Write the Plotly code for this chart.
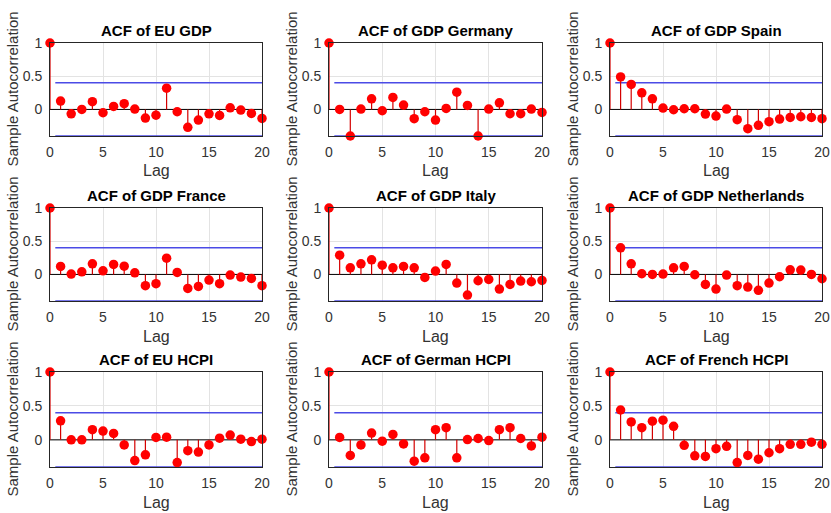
import plotly.graph_objects as go

W, H = 831, 513

lags = list(range(21))
titles = ["ACF of EU GDP", "ACF of GDP Germany", "ACF of GDP Spain",
          "ACF of GDP France", "ACF of GDP Italy", "ACF of GDP Netherlands",
          "ACF of EU HCPI", "ACF of German HCPI", "ACF of French HCPI"]

acf_eu_gdp = [1, 0.126, -0.066, 0.0, 0.116, -0.05, 0.045, 0.086, 0.005, -0.13, -0.086,
              0.32, -0.035, -0.27, -0.16, -0.066, -0.09, 0.025, -0.01, -0.06, -0.136]
acf_gdp_germany = [1, 0.0, -0.40, 0.005, 0.16, -0.02, 0.18, 0.065, -0.14, -0.035, -0.16,
                   0.015, 0.26, 0.06, -0.40, 0.005, 0.10, -0.065, -0.065, 0.005, -0.045]
acf_gdp_spain = [1, 0.49, 0.376, 0.25, 0.16, 0.02, -0.005, 0.01, 0.01, -0.07, -0.10,
                 0.005, -0.155, -0.29, -0.24, -0.185, -0.145, -0.12, -0.11, -0.12, -0.14]
acf_gdp_france = [1, 0.12, 0.005, 0.04, 0.16, 0.055, 0.15, 0.125, 0.025, -0.17, -0.14,
                  0.245, 0.03, -0.21, -0.18, -0.085, -0.14, -0.01, -0.04, -0.06, -0.17]
acf_gdp_italy = [1, 0.29, 0.10, 0.16, 0.22, 0.14, 0.10, 0.12, 0.10, -0.045, 0.05,
                 0.15, -0.13, -0.31, -0.095, -0.075, -0.22, -0.15, -0.10, -0.11, -0.09]
acf_gdp_netherlands = [1, 0.40, 0.16, 0.01, 0.0, 0.005, 0.10, 0.12, -0.005, -0.15, -0.22,
                       -0.01, -0.17, -0.19, -0.24, -0.13, -0.035, 0.07, 0.065, 0.0, -0.065]
acf_eu_hcpi = [1, 0.28, 0.0, 0.0, 0.15, 0.13, 0.095, -0.075, -0.305, -0.22, 0.035,
               0.04, -0.335, -0.16, -0.18, -0.075, 0.025, 0.07, 0.01, -0.025, 0.01]
acf_german_hcpi = [1, 0.035, -0.23, -0.075, 0.10, -0.02, 0.08, -0.06, -0.315, -0.265, 0.15,
                   0.18, -0.265, 0.005, 0.02, -0.01, 0.15, 0.18, 0.02, -0.09, 0.04]
acf_french_hcpi = [1, 0.44, 0.265, 0.18, 0.275, 0.29, 0.20, -0.08, -0.235, -0.245, -0.13,
                   -0.095, -0.335, -0.23, -0.285, -0.19, -0.13, -0.065, -0.065, -0.035, -0.065]

series = [acf_eu_gdp, acf_gdp_germany, acf_gdp_spain,
          acf_gdp_france, acf_gdp_italy, acf_gdp_netherlands,
          acf_eu_hcpi, acf_german_hcpi, acf_french_hcpi]

bound = 0.4
bound_start = 0.5

# layout geometry in pixels (left, right) per column, (top, bottom) per row
cols_px = [(50, 262), (329, 542), (610, 822)]
rows_px = [(43, 136), (208, 301), (372, 467)]

FONT = "Liberation Sans, Arial, sans-serif"
TXT = "#262626"
LBL = "#333333"

fig = go.Figure()
annotations = []
layout_axes = {}

for i, (title, vals) in enumerate(zip(titles, series)):
    r, c = divmod(i, 3)
    n = i + 1
    xa = "x" if n == 1 else f"x{n}"
    ya = "y" if n == 1 else f"y{n}"
    xl, xr = cols_px[c]
    yt, yb = rows_px[r]

    # zero baseline
    fig.add_trace(go.Scatter(x=[lags[0], lags[-1]], y=[0, 0], mode="lines",
                             line=dict(color="black", width=1), xaxis=xa, yaxis=ya,
                             showlegend=False, hoverinfo="skip"))
    # confidence bounds
    for b in (bound, -bound):
        fig.add_trace(go.Scatter(x=[bound_start, lags[-1]], y=[b, b], mode="lines",
                                 line=dict(color="#4b4be6", width=1.5), xaxis=xa, yaxis=ya,
                                 showlegend=False, hoverinfo="skip"))
    # stems
    sx, sy = [], []
    for l, v in zip(lags, vals):
        sx += [l, l, None]
        sy += [0, v, None]
    fig.add_trace(go.Scatter(x=sx, y=sy, mode="lines",
                             line=dict(color="#d40000", width=1.2), xaxis=xa, yaxis=ya,
                             showlegend=False, hoverinfo="skip"))
    # markers
    fig.add_trace(go.Scatter(x=lags, y=vals, mode="markers",
                             marker=dict(color="#ff0000", size=9.5, line=dict(width=0)),
                             cliponaxis=False, xaxis=xa, yaxis=ya, showlegend=False))

    xkey = "xaxis" if n == 1 else f"xaxis{n}"
    ykey = "yaxis" if n == 1 else f"yaxis{n}"
    layout_axes[xkey] = dict(
        domain=[xl / W, xr / W], anchor=ya, range=[0, 20], automargin=False,
        tickvals=[0, 5, 10, 15, 20], showgrid=True, gridcolor="#e3e3e3",
        showline=True, mirror=True, linecolor=TXT, linewidth=1,
        zeroline=False, ticks="", ticklabelstandoff=3,
        tickfont=dict(family=FONT, size=14, color=LBL))
    layout_axes[ykey] = dict(
        domain=[1 - yb / H, 1 - yt / H], anchor=xa, range=[-0.4, 1], automargin=False,
        tickvals=[0, 0.5, 1], ticktext=["0", "0.5", "1"], showgrid=True, gridcolor="#e3e3e3",
        showline=True, mirror=True, linecolor=TXT, linewidth=1,
        zeroline=False, ticks="", ticklabelstandoff=4,
        tickfont=dict(family=FONT, size=14, color=LBL))

    # subplot title
    annotations.append(dict(text=f"<b>{title}</b>", xref="paper", yref="paper",
                            x=(xl + xr) / 2 / W, y=1 - (yt - 12.5) / H,
                            xanchor="center", yanchor="middle", showarrow=False,
                            font=dict(family=FONT, size=15, color="#000000")))
    # y label
    annotations.append(dict(text="Sample Autocorrelation", xref="paper", yref="paper",
                            x=(xl - 38) / W, y=1 - (yt + yb) / 2 / H, textangle=-90,
                            xanchor="center", yanchor="middle", showarrow=False,
                            font=dict(family=FONT, size=15, color=LBL)))
    # x label
    annotations.append(dict(text="Lag", xref="paper", yref="paper",
                            x=(xl + xr) / 2 / W, y=1 - (yb + 35) / H,
                            xanchor="center", yanchor="middle", showarrow=False,
                            font=dict(family=FONT, size=16, color=LBL)))

fig.update_layout(width=W, height=H, margin=dict(l=0, r=0, t=0, b=0),
                  paper_bgcolor="white", plot_bgcolor="white",
                  annotations=annotations, **layout_axes)

fig.write_html("out.html")
